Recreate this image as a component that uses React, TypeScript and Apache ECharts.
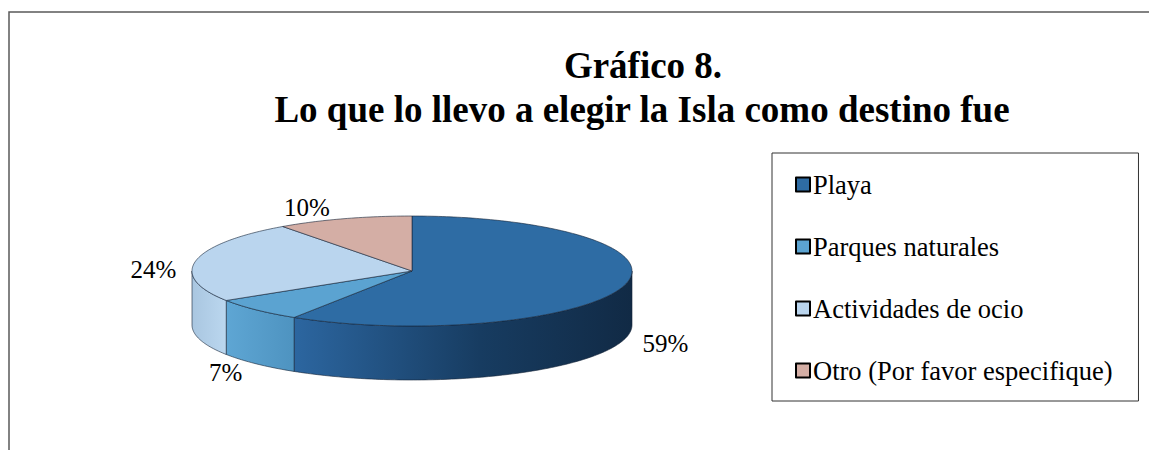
import React, { useEffect, useRef } from 'react';
import * as echarts from 'echarts';

const categories = ['Playa', 'Parques naturales', 'Actividades de ocio', 'Otro (Por favor especifique)'];
const values = [59, 7, 24, 10];
const titleLines = ['Gráfico 8.', 'Lo que lo llevo a elegir la Isla como destino fue'];

const topColors = ['#2E6CA4', '#5BA3D1', '#BAD5EE', '#D4AEA5'];
const wallStops: [number, string][][] = [
  [[0, '#2C66A0'], [0.55, '#173C61'], [1, '#112A45']],
  [[0, '#5EA6D4'], [1, '#4E93C0']],
  [[0, '#A9C6E0'], [1, '#BBD7EF']],
  [[0, '#D4AEA5'], [1, '#C49C93']],
];

const CX = 412, CY = 271, RX = 220, RY = 55, DEPTH = 54;
const FONT = '"Liberation Serif", "Times New Roman", serif';

const total = values.reduce((a, b) => a + b, 0);
const starts: number[] = [];
values.reduce((acc, v, i) => { starts[i] = (acc / total) * Math.PI * 2; return acc + v; }, 0);

function pt(t: number, dy = 0): number[] {
  return [CX + RX * Math.sin(t), CY - RY * Math.cos(t) + dy];
}
function arc(a: number, b: number, dy: number): number[][] {
  const n = Math.max(2, Math.ceil(Math.abs(b - a) / (Math.PI / 180)));
  const out: number[][] = [];
  for (let k = 0; k <= n; k++) out.push(pt(a + ((b - a) * k) / n, dy));
  return out;
}

export default function App() {
  const ref = useRef<HTMLDivElement>(null);
  useEffect(() => {
    document.body.style.margin = '0';
    const chart = echarts.init(ref.current!, null, { renderer: 'svg' });
    const data = values.map((v) => [v]);
    chart.setOption({
      animation: false,
      graphic: {
        elements: [
          { type: 'rect', shape: { x: 9, y: 12, width: 1200, height: 500 }, style: { fill: 'none', stroke: '#5a5a5a', lineWidth: 1.5 }, silent: true },
          { type: 'text', x: 643, y: 65, style: { text: titleLines[0], font: `bold 37px ${FONT}`, fill: '#000', textAlign: 'center', textVerticalAlign: 'middle' } },
          { type: 'text', x: 642, y: 109, style: { text: titleLines[1], font: `bold 37px ${FONT}`, fill: '#000', textAlign: 'center', textVerticalAlign: 'middle' } },
        ],
      },
      legend: {
        orient: 'vertical',
        left: 772,
        top: 153,
        data: categories,
        selectedMode: false,
        icon: 'rect',
        itemWidth: 14,
        itemHeight: 14,
        itemGap: 35,
        itemStyle: { borderColor: '#000', borderWidth: 2 },
        textStyle: { fontFamily: FONT, fontSize: 26.5, color: '#000', padding: [0, 0, 0, -2] },
        borderColor: '#333',
        borderWidth: 1,
        padding: [18, 26, 17, 23],
      },
      series: [
        {
          type: 'pie',
          center: [-500, -500],
          radius: 2,
          silent: true,
          label: { show: false },
          labelLine: { show: false },
          data: categories.map((name, i) => ({ name, value: values[i], itemStyle: { color: topColors[i] } })),
        },
        {
          type: 'custom',
          coordinateSystem: 'none',
          silent: true,
          data,
          renderItem: (params: any, api: any) => {
            const i = params.dataIndex;
            const a = starts[i];
            const b = a + (api.value(0) / total) * Math.PI * 2;
            const s = Math.max(a, Math.PI / 2);
            const e = Math.min(b, (Math.PI * 3) / 2);
            if (e <= s) return { type: 'group', children: [] };
            const points = [...arc(s, e, 0), ...arc(e, s, DEPTH)];
            return {
              type: 'polygon',
              shape: { points },
              style: {
                fill: new echarts.graphic.LinearGradient(0, 0, 1, 0, wallStops[i].map(([offset, color]) => ({ offset, color }))),
                stroke: 'rgba(20,35,55,0.75)',
                lineWidth: 0.8,
              },
            };
          },
        },
        {
          type: 'custom',
          coordinateSystem: 'none',
          silent: true,
          data,
          renderItem: (params: any, api: any) => {
            const i = params.dataIndex;
            const v = api.value(0);
            const a = starts[i];
            const b = a + (v / total) * Math.PI * 2;
            const m = (a + b) / 2;
            const points = [[CX, CY], ...arc(a, b, 0)];
            const c = Math.cos(m);
            const lx = CX + (RX + 20) * Math.sin(m) - (c > 0.5 ? 8 : 0);
            const ly = CY - (RY + 12) * c + DEPTH * Math.min(1, Math.max(0, (0.3 - c) / 0.55));
            const align = Math.sin(m) < 0 ? 'right' : 'left';
            return {
              type: 'group',
              children: [
                {
                  type: 'polygon',
                  shape: { points },
                  style: { fill: topColors[i], stroke: 'rgba(20,35,55,0.75)', lineWidth: 0.8 },
                },
                {
                  type: 'text',
                  x: lx,
                  y: ly,
                  style: {
                    text: Math.round((v / total) * 100) + '%',
                    font: `25px ${FONT}`,
                    fill: '#000',
                    align,
                    verticalAlign: 'middle',
                    textAlign: align,
                    textVerticalAlign: 'middle',
                  },
                },
              ],
            };
          },
        },
      ],
    });
    return () => chart.dispose();
  }, []);
  return <div ref={ref} style={{ width: 1149, height: 450 }} />;
}
